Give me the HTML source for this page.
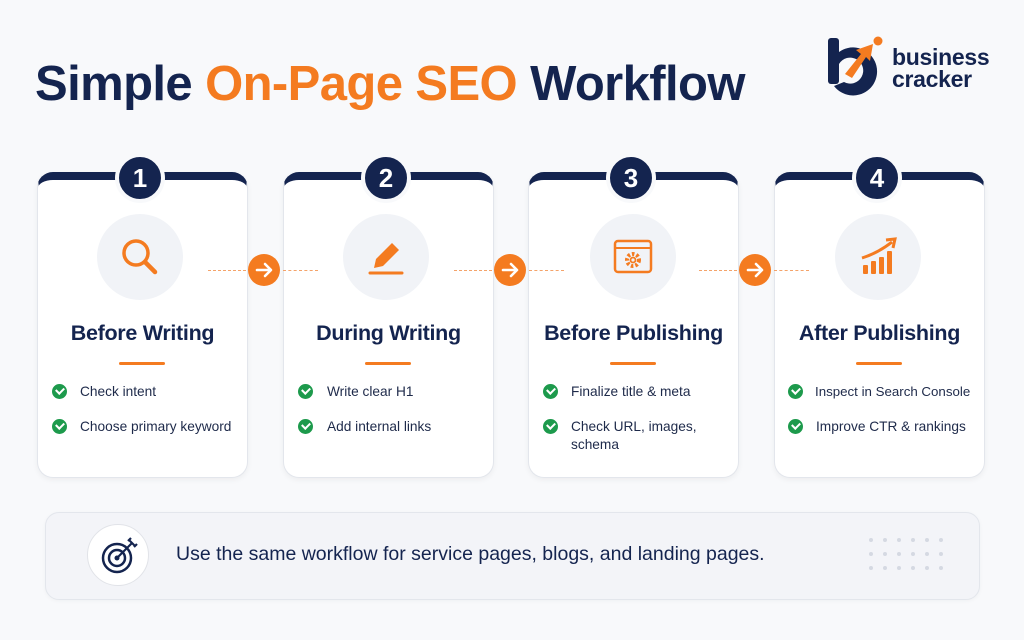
<!DOCTYPE html>
<html><head><meta charset="utf-8"><style>
*{margin:0;padding:0;box-sizing:border-box}
body{width:1024px;height:640px;background:#f8f9fb;font-family:"Liberation Sans",sans-serif;position:relative;overflow:hidden;color:#14244f}
.abs{position:absolute}
h1{position:absolute;left:35px;top:56px;font-size:49px;font-weight:bold;letter-spacing:-0.6px;color:#14244f;white-space:nowrap}
h1 span{color:#f47b20}
.card{position:absolute;top:172px;width:211px;height:306px;background:#fff;border:1px solid #e3e6ec;border-top:8px solid #14244f;border-radius:16px;box-shadow:0 2px 6px rgba(0,0,0,0.05)}
.num{position:absolute;top:153px;width:50px;height:50px;border-radius:50%;background:#14244f;border:4px solid #f8f9fb;color:#fff;font-weight:bold;font-size:26px;text-align:center;line-height:42px}
.ic{position:absolute;top:214px;width:86px;height:86px;border-radius:50%;background:#f1f3f7}
.ic svg{position:absolute;left:21px;top:21px}
.t{position:absolute;top:321px;width:211px;text-align:center;font-weight:bold;font-size:21.5px;color:#14244f;letter-spacing:-0.3px}
.ul{position:absolute;top:362px;width:46px;height:3px;background:#f47b20;border-radius:2px}
.b{position:absolute;font-size:13.7px;color:#1e2a4a;line-height:18px;white-space:nowrap}
.ck{position:absolute;width:15px;height:15px;border-radius:50%;background:#1d9a4c}
.ck:after{content:"";position:absolute;left:4px;top:3px;width:6px;height:4px;border-left:2px solid #fff;border-bottom:2px solid #fff;transform:rotate(-45deg)}
.arr{position:absolute;top:254px;width:32px;height:32px;border-radius:50%;background:#f47b20}
.dash{position:absolute;top:270px;height:0;border-top:1.5px dashed #f4a36a;width:38px}
</style></head><body>
<h1>Simple <span>On-Page SEO</span> Workflow</h1>

<svg class="abs" style="left:826px;top:34px" width="60" height="62" viewBox="0 0 60 62">
<rect x="2" y="4" width="11" height="46" rx="3" fill="#14244f"/>
<path d="M8 52 A24 24 0 1 0 13 18 L13 30 A13 13 0 1 1 18 48 Z" fill="#14244f"/>
<path d="M19 40 L35 20 L30 16 L47 10 L44 27 L40 23 L26 44 Z" fill="#f47b20"/>
<circle cx="52" cy="7" r="4.5" fill="#f47b20"/>
</svg>
<div class="abs" style="left:892px;top:46px;font-size:23px;font-weight:bold;line-height:22px;color:#14244f;letter-spacing:-0.3px">business<br>cracker</div>

<div class="card" style="left:37px"></div>
<div class="card" style="left:283px"></div>
<div class="card" style="left:528px"></div>
<div class="card" style="left:774px"></div>
<div class="num" style="left:115px">1</div>
<div class="num" style="left:361px">2</div>
<div class="num" style="left:606px">3</div>
<div class="num" style="left:852px">4</div>

<div class="ic" style="left:97px"><svg width="44" height="44" viewBox="0 0 44 44"><circle cx="18" cy="18" r="12" fill="none" stroke="#f47b20" stroke-width="3.5"/><line x1="27" y1="27" x2="37" y2="37" stroke="#f47b20" stroke-width="4.5" stroke-linecap="round"/></svg></div>
<div class="ic" style="left:343px"><svg width="44" height="44" viewBox="0 0 44 44"><path d="M10 33 L12 24 L28 8 L35 15 L19 31 Z" fill="#f47b20"/><line x1="6" y1="38" x2="38" y2="38" stroke="#f47b20" stroke-width="3" stroke-linecap="round"/></svg></div>
<div class="ic" style="left:590px"><svg width="44" height="44" viewBox="0 0 44 44"><rect x="4" y="6" width="36" height="31" rx="3" fill="none" stroke="#f47b20" stroke-width="2.5"/><line x1="4" y1="13" x2="40" y2="13" stroke="#f47b20" stroke-width="2"/><circle cx="22" cy="25" r="6" fill="none" stroke="#f47b20" stroke-width="4" stroke-dasharray="2.5 2"/><circle cx="22" cy="25" r="2.5" fill="none" stroke="#f47b20" stroke-width="1.8"/></svg></div>
<div class="ic" style="left:835px"><svg width="44" height="44" viewBox="0 0 44 44"><rect x="7" y="30" width="5" height="9" rx="1" fill="#f47b20"/><rect x="15" y="26" width="5" height="13" rx="1" fill="#f47b20"/><rect x="23" y="22" width="5" height="17" rx="1" fill="#f47b20"/><rect x="31" y="16" width="5" height="23" rx="1" fill="#f47b20"/><path d="M6 23 Q22 18 36 7" fill="none" stroke="#f47b20" stroke-width="3"/><path d="M30 5 L39 4 L37 13" fill="none" stroke="#f47b20" stroke-width="3"/></svg></div>

<div class="dash" style="left:208px"></div><div class="dash" style="left:283px;width:35px"></div>
<div class="dash" style="left:454px"></div><div class="dash" style="left:529px;width:35px"></div>
<div class="dash" style="left:699px"></div><div class="dash" style="left:774px;width:35px"></div>
<div class="arr" style="left:248px"><svg width="32" height="32"><path d="M9 16 H22 M17 10 L23 16 L17 22" fill="none" stroke="#fff" stroke-width="2.6" stroke-linecap="round" stroke-linejoin="round"/></svg></div>
<div class="arr" style="left:494px"><svg width="32" height="32"><path d="M9 16 H22 M17 10 L23 16 L17 22" fill="none" stroke="#fff" stroke-width="2.6" stroke-linecap="round" stroke-linejoin="round"/></svg></div>
<div class="arr" style="left:739px"><svg width="32" height="32"><path d="M9 16 H22 M17 10 L23 16 L17 22" fill="none" stroke="#fff" stroke-width="2.6" stroke-linecap="round" stroke-linejoin="round"/></svg></div>

<div class="t" style="left:37px">Before Writing</div>
<div class="t" style="left:283px">During Writing</div>
<div class="t" style="left:528px">Before Publishing</div>
<div class="t" style="left:774px">After Publishing</div>
<div class="ul" style="left:119px"></div><div class="ul" style="left:365px"></div><div class="ul" style="left:610px"></div><div class="ul" style="left:856px"></div>

<div class="ck" style="left:52px;top:384px"></div><div class="b" style="left:80px;top:383px">Check intent</div>
<div class="ck" style="left:52px;top:419px"></div><div class="b" style="left:80px;top:418px">Choose primary keyword</div>
<div class="ck" style="left:298px;top:384px"></div><div class="b" style="left:327px;top:383px">Write clear H1</div>
<div class="ck" style="left:298px;top:419px"></div><div class="b" style="left:327px;top:418px">Add internal links</div>
<div class="ck" style="left:543px;top:384px"></div><div class="b" style="left:571px;top:383px">Finalize title &amp; meta</div>
<div class="ck" style="left:543px;top:419px"></div><div class="b" style="left:571px;top:418px">Check URL, images,<br>schema</div>
<div class="ck" style="left:788px;top:384px"></div><div class="b" style="left:815px;top:383px;font-size:13.3px">Inspect in Search Console</div>
<div class="ck" style="left:788px;top:419px"></div><div class="b" style="left:816px;top:418px">Improve CTR &amp; rankings</div>

<div class="abs" style="left:45px;top:512px;width:935px;height:88px;background:#f3f4f8;border:1px solid #e3e6ec;border-radius:14px;box-shadow:0 1px 4px rgba(0,0,0,0.04)"></div>
<div class="abs" style="left:87px;top:524px;width:62px;height:62px;border-radius:50%;background:#fff;border:1px solid #e1e3e8"></div>
<svg class="abs" style="left:98px;top:535px" width="42" height="42" viewBox="0 0 42 42"><circle cx="19" cy="23" r="14" fill="none" stroke="#14244f" stroke-width="2.5"/><circle cx="19" cy="23" r="8" fill="none" stroke="#14244f" stroke-width="2.5"/><circle cx="19" cy="23" r="2.5" fill="#14244f"/><line x1="19" y1="23" x2="34" y2="8" stroke="#14244f" stroke-width="2.2"/><path d="M30 6 L33 3 M36 12 L39 9 M31 5 L37 11" stroke="#14244f" stroke-width="2.2"/></svg>
<div class="abs" style="left:176px;top:543px;font-size:19.5px;color:#14244f;white-space:nowrap">Use the same workflow for service pages, blogs, and landing pages.</div>
<svg class="abs" style="left:866px;top:535px" width="84" height="44"><g fill="#d5d9e2">
<circle cx="5" cy="5" r="2"/><circle cx="19" cy="5" r="2"/><circle cx="33" cy="5" r="2"/><circle cx="47" cy="5" r="2"/><circle cx="61" cy="5" r="2"/><circle cx="75" cy="5" r="2"/>
<circle cx="5" cy="19" r="2"/><circle cx="19" cy="19" r="2"/><circle cx="33" cy="19" r="2"/><circle cx="47" cy="19" r="2"/><circle cx="61" cy="19" r="2"/><circle cx="75" cy="19" r="2"/>
<circle cx="5" cy="33" r="2"/><circle cx="19" cy="33" r="2"/><circle cx="33" cy="33" r="2"/><circle cx="47" cy="33" r="2"/><circle cx="61" cy="33" r="2"/><circle cx="75" cy="33" r="2"/></g></svg>
</body></html>
